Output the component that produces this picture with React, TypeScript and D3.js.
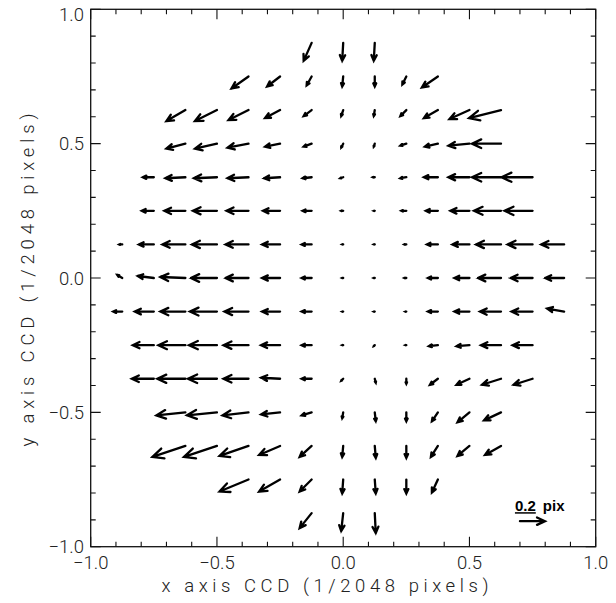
import React from 'react';
import * as d3 from 'd3';

// Grid rows (normalised CCD y) and first column (normalised CCD x) of each row
const gridStep = 0.125;
const gridY = [0.875, 0.75, 0.625, 0.5, 0.375, 0.25, 0.125, 0, -0.125, -0.25, -0.375, -0.5, -0.625, -0.75, -0.875];
const rowStartX = [-0.125, -0.375, -0.625, -0.625, -0.75, -0.75, -0.875, -0.875, -0.875, -0.75, -0.75, -0.625, -0.625, -0.375, -0.125];

// Distortion vectors (pixels): u = x component, v = y component
const rowU = [
  [-0.064, -0.008, -0.008],
  [-0.136, -0.104, -0.040, -0.008, 0.000, -0.032, -0.128],
  [-0.152, -0.176, -0.160, -0.120, -0.064, -0.016, -0.008, -0.048, -0.112, -0.160, -0.256],
  [-0.152, -0.176, -0.168, -0.120, -0.064, -0.016, -0.008, -0.048, -0.104, -0.168, -0.232],
  [-0.088, -0.160, -0.184, -0.168, -0.128, -0.072, -0.024, -0.016, -0.048, -0.112, -0.168, -0.232, -0.248],
  [-0.096, -0.168, -0.192, -0.176, -0.136, -0.072, -0.016, -0.008, -0.040, -0.096, -0.152, -0.216, -0.224],
  [-0.024, -0.120, -0.184, -0.200, -0.184, -0.144, -0.080, -0.008, -0.008, -0.016, -0.088, -0.136, -0.200, -0.200, -0.184],
  [-0.040, -0.128, -0.200, -0.208, -0.184, -0.144, -0.080, -0.008, -0.008, -0.016, -0.080, -0.120, -0.184, -0.176, -0.152],
  [-0.072, -0.152, -0.200, -0.216, -0.192, -0.144, -0.080, -0.008, -0.008, -0.008, -0.080, -0.120, -0.168, -0.168, -0.136],
  [-0.168, -0.216, -0.224, -0.200, -0.152, -0.080, -0.008, -0.008, -0.008, -0.072, -0.104, -0.160, -0.160],
  [-0.176, -0.224, -0.232, -0.200, -0.152, -0.080, -0.016, 0.008, 0.000, -0.064, -0.104, -0.152, -0.152],
  [-0.232, -0.240, -0.208, -0.152, -0.080, -0.008, 0.008, 0.000, -0.048, -0.096, -0.136],
  [-0.264, -0.264, -0.232, -0.168, -0.096, -0.008, 0.008, 0.000, -0.056, -0.096, -0.128],
  [-0.232, -0.168, -0.096, -0.008, 0.008, 0.000, -0.048],
  [-0.096, -0.016, 0.008],
];
const rowV = [
  [-0.144, -0.144, -0.144],
  [-0.096, -0.080, -0.072, -0.080, -0.080, -0.064, -0.088],
  [-0.088, -0.088, -0.080, -0.064, -0.048, -0.048, -0.048, -0.048, -0.064, -0.072, -0.064],
  [-0.040, -0.040, -0.032, -0.024, -0.024, -0.032, -0.024, -0.016, -0.024, -0.016, 0.000],
  [0.000, -0.008, -0.008, -0.008, -0.008, -0.008, -0.008, 0.000, -0.008, 0.000, 0.000, 0.000, 0.000],
  [0, 0, 0, 0, 0, 0, 0, 0, 0, 0, 0, 0, 0],
  [0, 0, 0, 0, 0, 0, 0, 0, 0, 0, 0, 0, 0, 0, 0],
  [0.024, 0.016, 0.008, 0, 0, 0, 0, 0, 0, 0, 0, 0, 0, 0, 0],
  [0, 0, 0, 0, 0, 0, 0, 0, 0, 0, 0, 0, 0, 0, 0.024],
  [0, 0, 0, 0, 0, 0, 0, -0.008, 0, -0.008, -0.008, 0, 0],
  [0, 0, 0, 0, 0.008, 0, -0.016, -0.032, -0.040, -0.048, -0.048, -0.048, -0.048],
  [-0.024, -0.024, -0.024, -0.016, -0.024, -0.048, -0.072, -0.072, -0.072, -0.080, -0.064],
  [-0.088, -0.088, -0.080, -0.072, -0.088, -0.088, -0.096, -0.096, -0.088, -0.080, -0.072],
  [-0.096, -0.096, -0.096, -0.112, -0.112, -0.112, -0.104],
  [-0.120, -0.144, -0.160],
];

const xTicks = [-1, -0.5, 0, 0.5, 1];
const xTickLabels = ['\u22121.0', '\u22120.5', '0.0', '0.5', '1.0'];
const yTicks = [-1, -0.5, 0, 0.5, 1];
const yTickLabels = ['\u22121.0', '\u22120.5', '0.0', '0.5', '1.0'];
const xTitle = 'x axis CCD (1/2048 pixels)';
const yTitle = 'y axis CCD (1/2048 pixels)';
const legendValue = 0.2;
const legendUnit = 'pix';

const W = 616;
const H = 603;
const M = { left: 90.7, right: 595.7, top: 9.3, bottom: 546.7 };

export default function App() {
  const x = d3.scaleLinear().domain([-1, 1]).range([M.left, M.right]);
  const y = d3.scaleLinear().domain([-1, 1]).range([M.bottom, M.top]);
  const vec = d3.scaleLinear().domain([0, legendValue]).range([0, 25]);

  const r = 0.35;
  const ang = (25 * Math.PI) / 180;
  const ct = r * Math.cos(ang);
  const st = r * Math.sin(ang);

  const arrowPath = (x0: number, y0: number, dx: number, dy: number) => {
    const x1 = x0 + dx;
    const y1 = y0 + dy;
    const h1x = x1 - (ct * dx - st * dy);
    const h1y = y1 - (ct * dy + st * dx);
    const h2x = x1 - (ct * dx + st * dy);
    const h2y = y1 - (ct * dy - st * dx);
    return `M${x0},${y0}L${x1},${y1}M${h1x},${h1y}L${x1},${y1}L${h2x},${h2y}`;
  };

  const arrows: { key: string; d: string }[] = [];
  gridY.forEach((gy, j) => {
    rowU[j].forEach((u, i) => {
      const gx = rowStartX[j] + i * gridStep;
      const v = rowV[j][i];
      const dx = vec(u);
      const dy = -vec(v);
      arrows.push({ key: `${j}-${i}`, d: arrowPath(x(gx), y(gy), dx, dy) });
    });
  });

  const minor = d3.range(-10, 11).map((k) => k / 10);
  const isMajor = (t: number) => Math.abs(Math.round(t * 2) - t * 2) < 1e-6;
  const tickLen = (t: number) => (isMajor(t) ? 10 : 5);

  const ticks: string[] = [];
  minor.forEach((t) => {
    const L = tickLen(t);
    const px = x(t);
    const py = y(t);
    ticks.push(`M${px},${M.bottom}V${M.bottom - L}`);
    ticks.push(`M${px},${M.top}V${M.top + L}`);
    ticks.push(`M${M.left},${py}H${M.left + L}`);
    ticks.push(`M${M.right},${py}H${M.right - L}`);
  });

  const labelFont = 'Roboto, "DejaVu Sans", sans-serif';
  const fs = 18.5;

  const legX = x(0.70);
  const legY = y(-0.905);
  const legLen = vec(legendValue);

  return (
    <svg width={W} height={H} style={{ position: 'absolute', left: 0, top: 0, background: '#fff' }}>
      <rect x={0} y={0} width={W} height={H} fill="#fff" />
      <g fill="none" stroke="#000" strokeWidth={2.3} strokeLinecap="round" strokeLinejoin="miter">
        {arrows.map((a) => (
          <path key={a.key} d={a.d} />
        ))}
      </g>
      <rect x={M.left} y={M.top} width={M.right - M.left} height={M.bottom - M.top} fill="none" stroke="#111" strokeWidth={1.3} />
      <path d={ticks.join('')} stroke="#111" strokeWidth={1.1} fill="none" />
      <g fontFamily={labelFont} fontWeight={300} fontSize={fs} fill="#222">
        {xTicks.map((t, k) => (
          <text key={`xt${k}`} x={x(t)} y={569} textAnchor="middle">
            {xTickLabels[k]}
          </text>
        ))}
        {yTicks.map((t, k) => (
          <text key={`yt${k}`} x={84} y={Math.max(y(t) + fs * 0.36, 21)} textAnchor="end">
            {yTickLabels[k]}
          </text>
        ))}
        <text x={325} y={592} textAnchor="middle" textLength={327} lengthAdjust="spacing">
          {xTitle}
        </text>
        <text
          transform={`translate(34,280) rotate(-90)`}
          textAnchor="middle"
          textLength={333}
          lengthAdjust="spacing"
        >
          {yTitle}
        </text>
      </g>
      <g>
        <path d={arrowPath(legX, legY, legLen, 0)} fill="none" stroke="#000" strokeWidth={2.3} strokeLinecap="round" />
        <text x={legX - 5} y={legY - 10} fontFamily='"Liberation Sans", Arial, sans-serif' fontSize={15} fontWeight="bold" fill="#000">
          <tspan textDecoration="underline">{legendValue.toFixed(1)}</tspan>
          <tspan dx={7}>{legendUnit}</tspan>
        </text>
      </g>
    </svg>
  );
}
